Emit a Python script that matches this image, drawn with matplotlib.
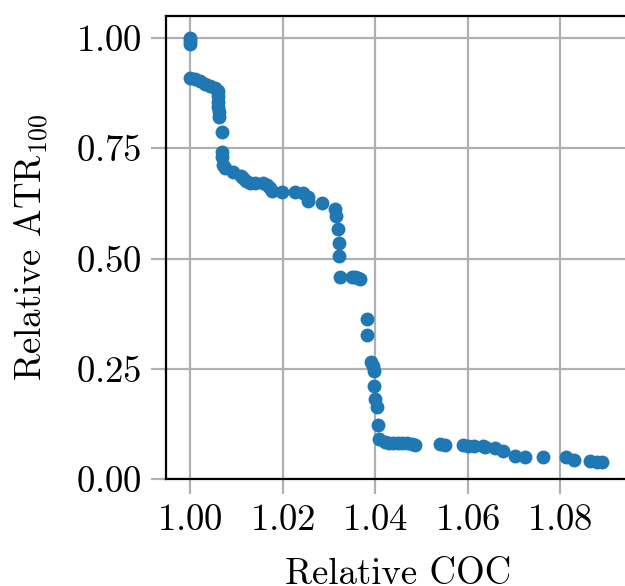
import matplotlib
matplotlib.use("Agg")
import matplotlib.pyplot as plt
from matplotlib.ticker import FuncFormatter

plt.rcParams['font.family'] = 'serif'
plt.rcParams['font.serif'] = ['cmr10']
plt.rcParams['mathtext.fontset'] = 'cm'
plt.rcParams['axes.formatter.use_mathtext'] = True

rel_coc = [1.0000, 1.0000, 1.0000,
           1.0000, 1.0011, 1.0022, 1.0032, 1.0043, 1.0054, 1.0060, 1.0061, 1.0061, 1.0061, 1.0062, 1.0062,
           1.0068, 1.0068, 1.0070, 1.0072, 1.0076, 1.0093, 1.0110, 1.0115, 1.0122, 1.0130, 1.0140, 1.0158,
           1.0166, 1.0173, 1.0177, 1.0198, 1.0227, 1.0245, 1.0256, 1.0256, 1.0285, 1.0314, 1.0315, 1.0319,
           1.0321, 1.0322, 1.0324, 1.0350, 1.0357, 1.0362, 1.0368,
           1.0382, 1.0383, 1.0391, 1.0396, 1.0398, 1.0398, 1.0400, 1.0405, 1.0406, 1.0409, 1.0422, 1.0429,
           1.0438, 1.0450, 1.0458, 1.0470, 1.0479, 1.0487, 1.0541, 1.0551, 1.0591, 1.0600, 1.0613, 1.0634,
           1.0638, 1.0660, 1.0676, 1.0703, 1.0724, 1.0764, 1.0813, 1.0829, 1.0865, 1.0879, 1.0890]
rel_atr = [1.000, 0.993, 0.986,
           0.909, 0.906, 0.902, 0.896, 0.891, 0.886, 0.880, 0.868, 0.856, 0.844, 0.832, 0.822,
           0.786, 0.742, 0.730, 0.712, 0.705, 0.697, 0.687, 0.683, 0.676, 0.672, 0.671, 0.671,
           0.667, 0.660, 0.652, 0.651, 0.651, 0.648, 0.640, 0.631, 0.625, 0.612, 0.597, 0.566,
           0.535, 0.505, 0.459, 0.459, 0.457, 0.456, 0.453,
           0.362, 0.326, 0.266, 0.257, 0.245, 0.212, 0.182, 0.163, 0.122, 0.090, 0.085, 0.082,
           0.082, 0.082, 0.082, 0.081, 0.080, 0.078, 0.079, 0.076, 0.076, 0.075, 0.075, 0.074,
           0.073, 0.071, 0.064, 0.052, 0.051, 0.051, 0.051, 0.043, 0.041, 0.039, 0.039]

x_ticks = [1.00, 1.02, 1.04, 1.06, 1.08]
y_ticks = [0.00, 0.25, 0.50, 0.75, 1.00]

fig = plt.figure(figsize=(6.25, 5.86), dpi=100)
ax = fig.add_axes([166/625, 107/586, 464/625, 463/586])

ax.scatter(rel_coc, rel_atr, s=100, color='#1f77b4', zorder=3, linewidths=0)

ax.set_xlim(0.9948, 1.0951)
ax.set_ylim(0.0, 1.05)
ax.set_xticks(x_ticks)
ax.set_yticks(y_ticks)
ax.xaxis.set_major_formatter(FuncFormatter(lambda v, p: f"${v:.2f}$"))
ax.yaxis.set_major_formatter(FuncFormatter(lambda v, p: f"${v:.2f}$"))
ax.grid(True, color='#b0b0b0', linewidth=1.6, zorder=0)
ax.set_axisbelow(True)
ax.tick_params(axis='both', labelsize=26.5, length=10.5, width=1.6, color='#b0b0b0', pad=7)
for sp in ax.spines.values():
    sp.set_linewidth(1.6)
ax.spines['right'].set_visible(False)

ax.set_xlabel('Relative COC', fontsize=26.5, labelpad=15)
ax.set_ylabel(r'Relative ATR$_{100}$', fontsize=26.5, labelpad=18)

fig.savefig('out.png', dpi=100)
